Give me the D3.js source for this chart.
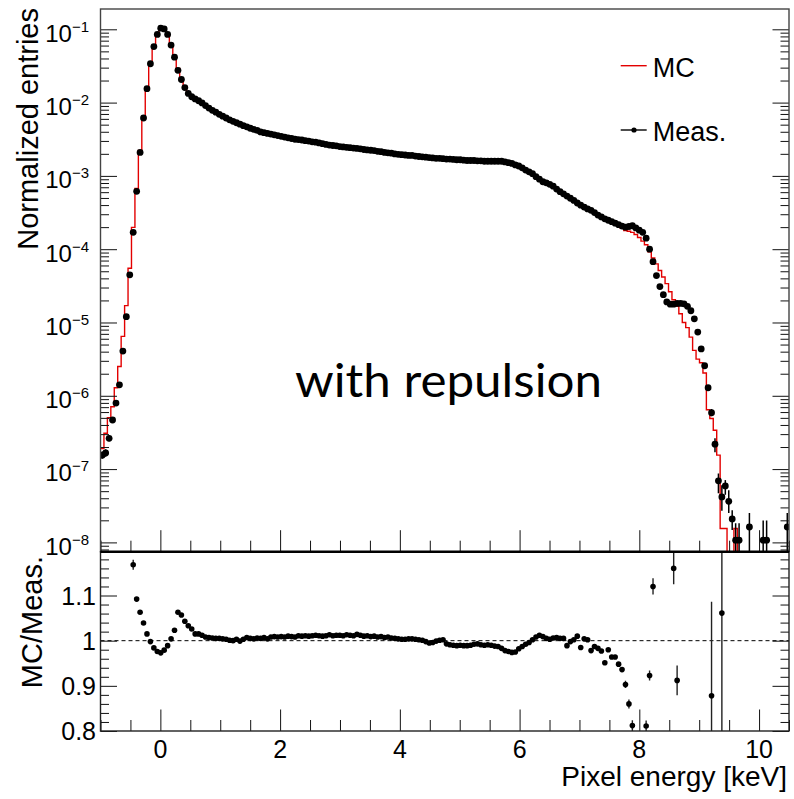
<!DOCTYPE html>
<html>
<head>
<meta charset="utf-8">
<script src="https://cdn.jsdelivr.net/npm/d3@7"></script>
<style>
  body { margin: 0; background: #fff; }
  svg { display: block; font-family: "Liberation Sans", Arial, Helvetica, sans-serif; }
</style>
</head>
<body>
<svg id="chart" width="794" height="799"></svg>
<script>
// histogram binning (keV)
const binLow = -1;
const binHigh = 10.5;
const nBins = 200;

// measured spectrum: log10(normalized entries) per bin, null = empty bin
const measLog = [
  -6.81, -6.78, -6.58, -6.33, -6.10, -5.85, -5.39, -4.92, -4.35, -3.77,
  -3.21, -2.68, -2.21, -1.81, -1.47, -1.235, -1.07, -0.985, -0.995, -1.07,
  -1.215, -1.38, -1.56, -1.685, -1.795, -1.875, -1.92, -1.95, -1.975, -2.005,
  -2.04, -2.075, -2.105, -2.13, -2.16, -2.185, -2.21, -2.235, -2.255, -2.275,
  -2.295, -2.315, -2.33, -2.35, -2.365, -2.38, -2.40, -2.41, -2.42, -2.43,
  -2.44, -2.45, -2.46, -2.47, -2.48, -2.49, -2.50, -2.505, -2.51, -2.52,
  -2.525, -2.535, -2.54, -2.55, -2.56, -2.57, -2.58, -2.585, -2.59, -2.60,
  -2.605, -2.61, -2.615, -2.62, -2.625, -2.63, -2.64, -2.645, -2.65, -2.655,
  -2.665, -2.67, -2.68, -2.685, -2.69, -2.70, -2.705, -2.71, -2.715, -2.72,
  -2.72, -2.73, -2.735, -2.74, -2.745, -2.75, -2.755, -2.76, -2.76, -2.765,
  -2.77, -2.77, -2.775, -2.78, -2.78, -2.785, -2.79, -2.79, -2.79, -2.795,
  -2.795, -2.80, -2.80, -2.80, -2.80, -2.80, -2.80, -2.81, -2.82, -2.83,
  -2.85, -2.865, -2.89, -2.92, -2.945, -2.97, -3.01, -3.045, -3.08, -3.095,
  -3.115, -3.14, -3.18, -3.215, -3.245, -3.275, -3.305, -3.335, -3.37, -3.40,
  -3.425, -3.45, -3.47, -3.50, -3.535, -3.56, -3.585, -3.605, -3.625, -3.645,
  -3.665, -3.685, -3.70, -3.69, -3.68, -3.71, -3.74, -3.77, -3.85, -4.00,
  -4.17, -4.36, -4.51, -4.62, -4.72, -4.75, -4.75, -4.74, -4.74, -4.745,
  -4.78, -4.84, -4.95, -5.13, -5.36, -5.59, -5.89, -6.23, -6.66, -7.16,
  -7.38, -7.23, -7.44, -7.68, -7.97, -7.97, null, null, -7.79, null,
  null, null, -7.97, -7.97, null, null, null, null, null, -7.79
];

// MC/Meas. per bin, null where the point is outside the ratio pad
const ratio = [
  null, null, null, null, null, null, null, null, null, 1.168,
  1.092, 1.063, 1.039, 1.015, 0.998, 0.984, 0.976, 0.973, 0.979, 0.989,
  1.004, 1.023, 1.063, 1.057, 1.043, 1.033, 1.026, 1.015, 1.015, 1.012,
  1.008, 1.007, 1.006, 1.005, 1.005, 1.004, 1.003, 1.001, 1.000, 1.003,
  0.999, 1.003, 1.007, 1.005, 1.004, 1.006, 1.005, 1.007, 1.004, 1.008,
  1.009, 1.008, 1.009, 1.008, 1.010, 1.009, 1.008, 1.011, 1.010, 1.011,
  1.010, 1.011, 1.012, 1.011, 1.010, 1.011, 1.013, 1.011, 1.012, 1.012,
  1.011, 1.013, 1.012, 1.011, 1.014, 1.012, 1.010, 1.011, 1.009, 1.010,
  1.008, 1.009, 1.007, 1.008, 1.006, 1.005, 1.004, 1.003, 1.003, 1.004,
  1.004, 1.003, 1.002, 1.001, 0.998, 0.995, 0.996, 0.999, 1.001, 1.002,
  0.993, 0.991, 0.990, 0.989, 0.990, 0.989, 0.989, 0.990, 0.992, 0.993,
  0.991, 0.990, 0.991, 0.990, 0.988, 0.987, 0.983, 0.978, 0.976, 0.974,
  0.975, 0.982, 0.987, 0.992, 0.996, 1.002, 1.008, 1.012, 1.009, 1.005,
  1.003, 1.006, 1.007, 1.005, 1.005, 0.989, 0.998, 1.002, 1.010, 0.985,
  1.004, 1.002, 0.978, 0.987, 0.983, 0.977, 0.951, 0.980, 0.964, 0.964,
  0.948, 0.936, 0.903, 0.860, 0.812, null, null, null, 0.811, 0.923,
  1.120, null, null, null, null, null, 1.160, 0.912, null, null,
  null, null, null, null, null, null, null, 0.878, null, null,
  1.061, null, null, null, null, null, null, null, null, null,
  null, null, null, null, null, null, null, null, null, null
];

// MC log10 values where no ratio point is drawn: bins 0..8 and 155..199
const mcLowTail = [-6.72, -6.51, -6.30, -6.15, -5.89, -5.60, -5.19, -4.77, -4.26];
const mcHighTail = [
  -3.80, -3.84, -3.89, -3.94, -4.035, -4.12, -4.20, -4.29, -4.38, -4.47,
  -4.58, -4.69, -4.78, -4.88, -5.00, -5.07, -5.20, -5.38, -5.50, -5.55,
  -5.69, -6.19, -6.31, -6.47, -6.81, -7.81, -7.81, null, null, -7.81,
  null, null, null, null, null, null, null, null, null, null,
  null, null, null, null, null
];
const mcHighStart = 155;

// visible error bars on Meas.: [bin, log10 low (null = down to axis), log10 high]
const measBars = [
  [0, -6.86, -6.76], [1, -6.83, -6.73], [2, -6.62, -6.54],
  [177, -6.28, -6.18], [178, -6.77, -6.58], [179, -7.33, -7.06],
  [180, -7.57, -7.22], [181, -7.35, -7.15], [182, -7.60, -7.29],
  [183, -7.83, -7.56], [184, null, -7.74], [185, null, -7.74],
  [188, null, -7.60], [192, null, -7.70], [193, null, -7.70], [199, null, -7.60]
];

// visible error bars on the ratio: [bin, half width]
const ratioBars = [
  [9, 0.011], [152, 0.008], [153, 0.010], [154, 0.012], [158, 0.012],
  [159, 0.011], [160, 0.018], [166, 0.035], [167, 0.033], [177, 0.208], [180, 0.6]
];

// axis ticks
const xMajor = [0, 2, 4, 6, 8, 10];
const decades = [-1, -2, -3, -4, -5, -6, -7, -8];
const ratioMajor = [0.8, 0.9, 1, 1.1];

// ---- layout ----
const left = 100.5, right = 789;
const topY = 9, midY = 551.7, botY = 731;

const svg = d3.select("#chart");
svg.append("rect").attr("width", 794).attr("height", 799).attr("fill", "#fff");

const x = d3.scaleLinear().domain([binLow, binHigh]).range([left, right]);
const yTop = d3.scaleLog().domain([Math.pow(10, -8.127), Math.pow(10, -0.723)]).range([midY, topY]);
const yRat = d3.scaleLinear().domain([0.8, 1.197]).range([botY, midY]);

const binW = (binHigh - binLow) / nBins;
const edge = i => binLow + i * binW;
const center = i => binLow + (i + 0.5) * binW;

// MC per bin
function mcValue(i) {
  if (i < mcLowTail.length) return Math.pow(10, mcLowTail[i]);
  if (i >= mcHighStart) {
    const v = mcHighTail[i - mcHighStart];
    return v == null ? 1e-12 : Math.pow(10, v);
  }
  return Math.pow(10, measLog[i]) * ratio[i];
}

// clip paths
const defs = svg.append("defs");
defs.append("clipPath").attr("id", "clipTop").append("rect")
  .attr("x", left).attr("y", topY).attr("width", right - left).attr("height", midY - topY);
defs.append("clipPath").attr("id", "clipRat").append("rect")
  .attr("x", left).attr("y", midY).attr("width", right - left).attr("height", botY - midY);

// ---- top pad ----
const topPad = svg.append("g").attr("clip-path", "url(#clipTop)");

const mcPts = d3.range(nBins).map(i => [edge(i), mcValue(i)]);
mcPts.push([edge(nBins), mcValue(nBins - 1)]);
const stepLine = d3.line()
  .x(d => x(d[0]))
  .y(d => Math.min(yTop(Math.max(d[1], 1e-12)), midY + 20))
  .curve(d3.curveStepAfter);
topPad.append("path")
  .attr("d", stepLine(mcPts))
  .attr("fill", "none")
  .attr("stroke", "#e30000")
  .attr("stroke-width", 1.4);

topPad.append("g").selectAll("line")
  .data(measBars)
  .join("line")
  .attr("x1", d => x(center(d[0]))).attr("x2", d => x(center(d[0])))
  .attr("y1", d => d[1] == null ? midY : yTop(Math.pow(10, d[1])))
  .attr("y2", d => yTop(Math.pow(10, d[2])))
  .attr("stroke", "#000").attr("stroke-width", 1.5);

const measPts = d3.range(nBins).filter(i => measLog[i] != null);
topPad.append("g").selectAll("circle")
  .data(measPts)
  .join("circle")
  .attr("cx", i => x(center(i)))
  .attr("cy", i => yTop(Math.pow(10, measLog[i])))
  .attr("r", 3.4)
  .attr("fill", "#000");

// ---- ratio pad ----
const ratPad = svg.append("g").attr("clip-path", "url(#clipRat)");
ratPad.append("line")
  .attr("x1", left).attr("x2", right)
  .attr("y1", yRat(1)).attr("y2", yRat(1))
  .attr("stroke", "#000").attr("stroke-width", 1).attr("stroke-dasharray", "4,3");

ratPad.append("g").selectAll("line")
  .data(ratioBars)
  .join("line")
  .attr("x1", d => x(center(d[0]))).attr("x2", d => x(center(d[0])))
  .attr("y1", d => yRat(ratio[d[0]] - d[1]))
  .attr("y2", d => yRat(ratio[d[0]] + d[1]))
  .attr("stroke", "#222").attr("stroke-width", 1.4);

const ratPts = d3.range(nBins).filter(i => ratio[i] != null);
ratPad.append("g").selectAll("circle")
  .data(ratPts)
  .join("circle")
  .attr("cx", i => x(center(i)))
  .attr("cy", i => yRat(ratio[i]))
  .attr("r", 2.8)
  .attr("fill", "#000");

// ---- axes ----
function noDomain(g) { g.select(".domain").remove(); g.selectAll("line").attr("stroke", "#111"); }

const xMinor = d3.range(-1, 10.51, 0.5).filter(v => !xMajor.includes(v));
[midY, botY].forEach(yy => {
  svg.append("g").attr("transform", `translate(0,${yy})`)
    .call(d3.axisBottom(x).tickValues(xMajor).tickSize(-21.5).tickFormat(""))
    .call(noDomain);
  svg.append("g").attr("transform", `translate(0,${yy})`)
    .call(d3.axisBottom(x).tickValues(xMinor).tickSize(-11).tickFormat(""))
    .call(noDomain);
});

// log y axis, both sides
const majorVals = decades.map(e => Math.pow(10, e));
const minorVals = [];
for (let e = -9; e <= -1; e++) {
  for (let k = 2; k <= 9; k++) {
    const v = k * Math.pow(10, e);
    if (v > yTop.domain()[0] && v < yTop.domain()[1]) minorVals.push(v);
  }
}
svg.append("g").attr("transform", `translate(${left},0)`)
  .call(d3.axisLeft(yTop).tickValues(majorVals).tickSize(-16.5).tickFormat("")).call(noDomain);
svg.append("g").attr("transform", `translate(${left},0)`)
  .call(d3.axisLeft(yTop).tickValues(minorVals).tickSize(-8.5).tickFormat("")).call(noDomain);
svg.append("g").attr("transform", `translate(${right},0)`)
  .call(d3.axisRight(yTop).tickValues(majorVals).tickSize(-16.5).tickFormat("")).call(noDomain);
svg.append("g").attr("transform", `translate(${right},0)`)
  .call(d3.axisRight(yTop).tickValues(minorVals).tickSize(-8.5).tickFormat("")).call(noDomain);

// ratio y axis, both sides
const ratioMinor = d3.range(0.82, 1.197, 0.02).filter(v => !ratioMajor.some(m => Math.abs(m - v) < 1e-6));
[[left, d3.axisLeft], [right, d3.axisRight]].forEach(([xx, ax]) => {
  svg.append("g").attr("transform", `translate(${xx},0)`)
    .call(ax(yRat).tickValues(ratioMajor).tickSize(-16.5).tickFormat("")).call(noDomain);
  svg.append("g").attr("transform", `translate(${xx},0)`)
    .call(ax(yRat).tickValues(ratioMinor).tickSize(-8.5).tickFormat("")).call(noDomain);
});

// frames
svg.append("rect").attr("x", left).attr("y", topY).attr("width", right - left).attr("height", midY - topY)
  .attr("fill", "none").attr("stroke", "#444").attr("stroke-width", 1.4);
svg.append("rect").attr("x", left).attr("y", midY).attr("width", right - left).attr("height", botY - midY)
  .attr("fill", "none").attr("stroke", "#222").attr("stroke-width", 1.4);
svg.append("line").attr("x1", left).attr("x2", right).attr("y1", midY).attr("y2", midY)
  .attr("stroke", "#000").attr("stroke-width", 2.6);

// ---- labels ----
const yLab = svg.append("g");
decades.forEach(e => {
  const t = yLab.append("text")
    .attr("x", 89).attr("y", yTop(Math.pow(10, e)) + 12.4)
    .attr("text-anchor", "end").attr("font-size", 24);
  t.append("tspan").text("10");
  t.append("tspan").attr("dy", -10).attr("font-size", 15).text("\u2212" + (-e));
});

svg.append("g").selectAll("text")
  .data(ratioMajor)
  .join("text")
  .attr("x", 96).attr("y", d => yRat(d) + 9)
  .attr("text-anchor", "end").attr("font-size", 25)
  .text(d => d3.format("")(d));

svg.append("g").selectAll("text")
  .data(xMajor)
  .join("text")
  .attr("x", d => x(d)).attr("y", 758)
  .attr("text-anchor", "middle").attr("font-size", 25)
  .text(d => d);

svg.append("text")
  .attr("transform", "translate(38,8) rotate(-90)")
  .attr("text-anchor", "end").attr("font-size", 29)
  .text("Normalized entries");

svg.append("text")
  .attr("transform", "translate(42,556) rotate(-90)")
  .attr("text-anchor", "end").attr("font-size", 29)
  .text("MC/Meas.");

svg.append("text")
  .attr("x", 787).attr("y", 786)
  .attr("text-anchor", "end").attr("font-size", 28)
  .text("Pixel energy [keV]");

// legend
const leg = svg.append("g");
leg.append("line").attr("x1", 620.7).attr("x2", 646.7).attr("y1", 65.7).attr("y2", 65.7)
  .attr("stroke", "#e30000").attr("stroke-width", 1.4);
leg.append("text").attr("x", 652.7).attr("y", 77).attr("font-size", 27).text("MC");
leg.append("line").attr("x1", 620.7).attr("x2", 646.7).attr("y1", 130).attr("y2", 130)
  .attr("stroke", "#000").attr("stroke-width", 1.4);
leg.append("circle").attr("cx", 634).attr("cy", 130).attr("r", 2.6).attr("fill", "#000");
leg.append("text").attr("x", 652.7).attr("y", 140.5).attr("font-size", 27).text("Meas.");

// overlay annotation
svg.append("text")
  .attr("x", 295).attr("y", 396.5)
  .attr("font-family", "Lato, 'Open Sans', sans-serif")
  .attr("font-size", 46)
  .attr("textLength", 307).attr("lengthAdjust", "spacingAndGlyphs")
  .attr("fill", "#000")
  .text("with repulsion");
</script>
</body>
</html>
